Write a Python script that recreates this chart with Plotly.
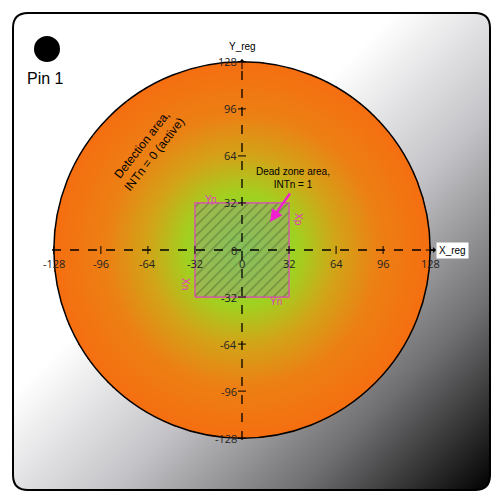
import numpy as np
import plotly.graph_objects as go

# diagram values (register units)
ticks = [-128, -96, -64, -32, 0, 32, 64, 96, 128]
tick_labels = ["-128", "-96", "-64", "-32", "0", "32", "64", "96", "128"]
dead_zone = [-32, 32]
radius = 128

S = 1.47  # px per unit
OFF = 8   # page body margin
CX, CY = 242 - OFF, 250 - OFF
W, H = 500 - OFF, 501 - OFF


def P(px, py):
    return (px - OFF - CX) / S, (CY - (py - OFF)) / S


x0, x1 = -CX / S, (W - CX) / S
y0, y1 = -(H - CY) / S, CY / S

fig = go.Figure()

# background gradient inside rounded box
bx0, by1 = P(13, 13)
bx1, by0 = P(490, 490)
gx = np.linspace(bx0, bx1, 320)
gy = np.linspace(by0, by1, 320)
GX, GY = np.meshgrid(gx, gy)
t = (GX - bx0) / (bx1 - bx0) + (by1 - GY) / (by1 - by0)
r = 15 / S
cxr = np.clip(GX, bx0 + r, bx1 - r)
cyr = np.clip(GY, by0 + r, by1 - r)
t[np.hypot(GX - cxr, GY - cyr) > r] = np.nan
fig.add_trace(go.Heatmap(x=gx, y=gy, z=t, zmin=0, zmax=2, showscale=False, hoverinfo="skip",
                         colorscale=[[0, "#ffffff"], [0.4, "#ffffff"], [0.6, "#c4c4c8"],
                                     [0.8, "#6e6e70"], [1, "#000000"]]))

# radial gradient disc
cx = np.linspace(-radius, radius, 300)
CXg, CYg = np.meshgrid(cx, cx)
d = np.hypot(CXg, CYg)
d[d > radius] = np.nan
fig.add_trace(go.Heatmap(x=cx, y=cx, z=d, zmin=0, zmax=radius, showscale=False, hoverinfo="skip",
                         colorscale=[[0, "#72e040"], [0.3, "#a2d020"], [0.5, "#d2a418"],
                                     [0.72, "#ec8014"], [1, "#f56e10"]]))

# dead zone square
a, b = dead_zone
fig.add_trace(go.Scatter(x=[a, b, b, a, a], y=[a, a, b, b, a], mode="lines", fill="toself",
                         line=dict(color="#e040c0", width=1.2), fillcolor="rgba(150,160,110,0.55)",
                         fillpattern=dict(shape="/", fgcolor="#3f5a2a", bgcolor="rgba(150,165,110,0.55)",
                                          size=7, solidity=0.18),
                         hoverinfo="skip"))

# axes (dashed)
xs, _ = P(52, 0)
fig.add_trace(go.Scatter(x=[xs, radius + 3], y=[0, 0], mode="lines",
                         line=dict(color="black", width=1.3, dash="dash"), hoverinfo="skip"))
_, ys = P(0, 440)
fig.add_trace(go.Scatter(x=[0, 0], y=[ys, radius + 1], mode="lines",
                         line=dict(color="black", width=1.3, dash="dash"), hoverinfo="skip"))

shapes = [
    dict(type="circle", x0=-radius, y0=-radius, x1=radius, y1=radius, line=dict(color="black", width=1.5)),
]
# rounded border
rr = r
path = (f"M {bx0+rr},{by1} L {bx1-rr},{by1} Q {bx1},{by1} {bx1},{by1-rr} L {bx1},{by0+rr} "
        f"Q {bx1},{by0} {bx1-rr},{by0} L {bx0+rr},{by0} Q {bx0},{by0} {bx0},{by0+rr} "
        f"L {bx0},{by1-rr} Q {bx0},{by1} {bx0+rr},{by1} Z")
shapes.append(dict(type="path", path=path, line=dict(color="black", width=2)))
# pin 1 dot
px_, py_ = P(47, 49)
dr = 12 / S
shapes.append(dict(type="circle", x0=px_ - dr, x1=px_ + dr, y0=py_ - dr, y1=py_ + dr,
                   fillcolor="black", line=dict(color="black")))
# ticks
tl = 4 / S
for tv in ticks:
    if tv == 0:
        continue
    shapes.append(dict(type="line", x0=tv, x1=tv, y0=-tl, y1=tl, line=dict(color="black", width=1)))
    shapes.append(dict(type="line", x0=-tl, x1=tl, y0=tv, y1=tv, line=dict(color="black", width=1)))

annotations = []
for tv, lab in zip(ticks, tick_labels):
    annotations.append(dict(x=tv, y=-3, text=lab, showarrow=False, yanchor="top", xanchor="center",
                            font=dict(size=11, color="#222")))
    annotations.append(dict(x=-2, y=tv, text=lab, showarrow=False, xanchor="right", yanchor="middle",
                            font=dict(size=11, color="#222")))

# arrow heads on axes
annotations.append(dict(x=radius + 4, y=0, ax=radius - 4, ay=0, axref="x", ayref="y", text="",
                        showarrow=True, arrowhead=1, arrowwidth=1, arrowcolor="black"))
annotations.append(dict(x=0, y=radius + 2, ax=0, ay=radius - 6, axref="x", ayref="y", text="",
                        showarrow=True, arrowhead=1, arrowwidth=1, arrowcolor="black"))


def txt(px, py, s, size=11, color="black", angle=0, **kw):
    x, y = P(px, py)
    annotations.append(dict(x=x, y=y, text=s, showarrow=False, textangle=angle,
                            font=dict(size=size, color=color, family="Liberation Sans, Arial"), **kw))


txt(452, 250, "X_reg", size=10, bgcolor="white", borderpad=2)
txt(242, 46, "Y_reg", size=10)
txt(45, 78, "Pin 1", size=16)
txt(148, 150, "Detection area,<br>INTn = 0 (active)", size=12, angle=-52)
txt(293, 178, "Dead zone area,<br>INTn = 1", size=10)
txt(211, 199, "Yp", size=10, color="#e040c0")
txt(276, 301, "Yn", size=10, color="#e040c0")
txt(299, 219, "Xp", size=10, color="#e040c0", angle=90)
txt(186, 284, "Xn", size=10, color="#e040c0", angle=90)

ax_, ay_ = P(291, 192)
hx, hy = P(270, 222)
annotations.append(dict(x=hx, y=hy, ax=ax_, ay=ay_, axref="x", ayref="y", text="", showarrow=True,
                        arrowhead=2, arrowsize=1, arrowwidth=2.5, arrowcolor="#f020d0"))

fig.update_layout(
    width=W, height=H, margin=dict(l=0, r=0, t=0, b=0),
    paper_bgcolor="white", plot_bgcolor="white", showlegend=False,
    xaxis=dict(range=[x0, x1], visible=False, fixedrange=True),
    yaxis=dict(range=[y0, y1], visible=False, fixedrange=True),
    shapes=shapes, annotations=annotations,
)
fig.write_html("out.html")
